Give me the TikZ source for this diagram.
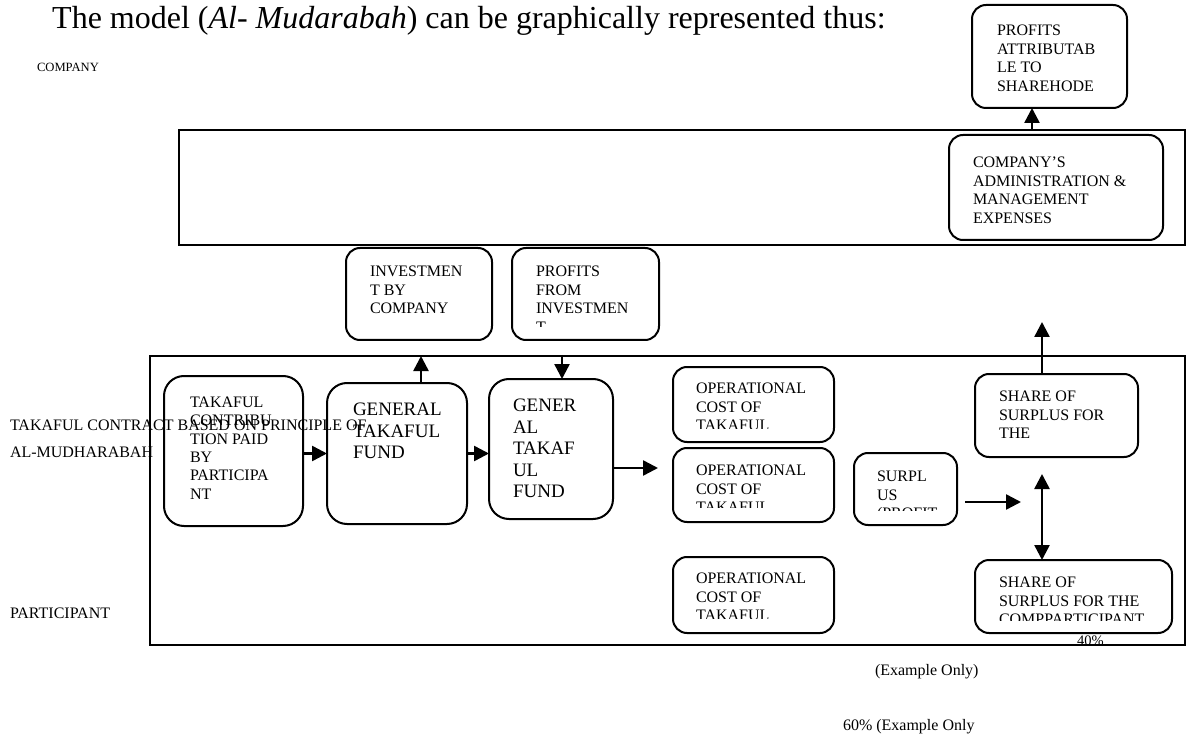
\documentclass[tikz,border=0pt]{standalone}
\usepackage{fontspec}
\setmainfont{Liberation Serif}
\usetikzlibrary{arrows.meta}
\newcommand{\fs}[2]{\fontsize{#1}{#2}\selectfont}
\begin{document}
\begin{tikzpicture}[x=1pt,y=-1pt,
  frame/.style={draw,line width=1.6pt,inner sep=0,outer sep=0},
  rbox/.style={draw,line width=2pt,rounded corners=14pt,inner sep=0,outer sep=0},
  txt/.style={anchor=north west,inner sep=0,outer sep=0,align=left,font=\fs{16}{18.5}},
  bigtxt/.style={anchor=north west,inner sep=0,outer sep=0,align=left,font=\fs{19}{21.5}},
  lbl/.style={anchor=north west,inner sep=0,outer sep=0,font=\fs{16}{18.5}},
  arr/.style={line width=2.5pt,-{Triangle[length=15pt,width=15pt]}},
  darr/.style={line width=2.5pt,{Triangle[length=15pt,width=15pt]}-{Triangle[length=15pt,width=15pt]}}]
\useasboundingbox (0,0) rectangle (1189,735);

% title and side labels
\node[anchor=base west,inner sep=0,font=\fs{32}{36}] (title) at (52,29) {The model (\textit{Al- Mudarabah}) can be graphically represented thus:};
\node[lbl,font=\fs{12.6}{15}] (lcomp) at (37,63) {COMPANY};
\node[lbl] (lcontract) at (10,420) {TAKAFUL CONTRACT BASED ON PRINCIPLE OF};
\node[lbl] (lmud) at (10,447) {AL-MUDHARABAH};
\node[lbl] (lpart) at (10,608) {PARTICIPANT};

% frames
\node[frame,minimum width=1006,minimum height=115] (comp) at (682,187.5) {};
\node[frame,minimum width=1035,minimum height=289] (low) at (667.5,500.5) {};

% boxes
\node[rbox,minimum width=155,minimum height=103] (pa) at (1049.5,56.5) {};
\node[txt] (pat) at (997,25) {PROFITS\\ATTRIBUTAB\\LE TO\\SHAREHODE};

\node[rbox,minimum width=214,minimum height=105] (adm) at (1056,187.5) {};
\node[txt] (admt) at (973,157) {COMPANY’S\\ADMINISTRATION \&\\MANAGEMENT\\EXPENSES};

\node[rbox,minimum width=146,minimum height=92] (inv) at (419,294) {};
\node[txt] (invt) at (370,266) {INVESTMEN\\T BY\\COMPANY};

\node[rbox,minimum width=147,minimum height=92] (pfi) at (585.5,294) {};
\begin{scope}
\clip (512,248) rectangle (659,327);
\node[txt] (pfit) at (536,266) {PROFITS\\FROM\\INVESTMEN\\T};
\end{scope}

\node[rbox,minimum width=139,minimum height=150,rounded corners=20pt] (tak) at (233.5,451) {};
\node[txt,font=\fs{16}{18.3}] (takt) at (190,397) {TAKAFUL\\CONTRIBU\\TION PAID\\BY\\PARTICIPA\\NT};

\node[rbox,minimum width=140,minimum height=141,rounded corners=20pt] (gtf1) at (397,453.5) {};
\node[bigtxt] (gtf1t) at (353,403) {GENERAL\\TAKAFUL\\FUND};

\node[rbox,minimum width=124,minimum height=140,rounded corners=20pt] (gtf2) at (551,449) {};
\node[bigtxt] (gtf2t) at (513,399) {GENER\\AL\\TAKAF\\UL\\FUND};

\node[rbox,minimum width=161,minimum height=75] (op1) at (753.5,404.5) {};
\begin{scope}
\clip (673,367) rectangle (834,428);
\node[txt] (op1t) at (696,383) {OPERATIONAL\\COST OF\\TAKAFUL};
\end{scope}

\node[rbox,minimum width=161,minimum height=74] (op2) at (753.5,485) {};
\begin{scope}
\clip (673,448) rectangle (834,507);
\node[txt] (op2t) at (696,465) {OPERATIONAL\\COST OF\\TAKAFUL};
\end{scope}

\node[rbox,minimum width=161,minimum height=76] (op3) at (753.5,595) {};
\begin{scope}
\clip (673,557) rectangle (834,618);
\node[txt] (op3t) at (696,573) {OPERATIONAL\\COST OF\\TAKAFUL};
\end{scope}

\node[rbox,minimum width=103,minimum height=72] (sur) at (905.5,489) {};
\begin{scope}
\clip (854,453) rectangle (957,510);
\node[txt] (surt) at (877,471) {SURPL\\US\\(PROFIT};
\end{scope}

\node[rbox,minimum width=163,minimum height=83] (sh1) at (1056.5,415.5) {};
\node[txt] (sh1t) at (999,391) {SHARE OF\\SURPLUS FOR\\THE};

\node[rbox,minimum width=197,minimum height=73] (sh2) at (1073.5,596.5) {};
\begin{scope}
\clip (975,560) rectangle (1172,620);
\node[txt] (sh2t) at (999,577) {SHARE OF\\SURPLUS FOR THE\\COMPPARTICIPANT};
\end{scope}

% bottom labels
\node[lbl,font=\fs{14.5}{17}] (p40) at (1077,636) {40\%};
\node[lbl] (ex1) at (875,664) {(Example Only)};
\node[lbl] (ex2) at (843,719) {60\% (Example Only};

% free connector ends
\coordinate (invup) at (421,356);
\coordinate (pfidown) at (562,355);
\coordinate (gout) at (658,468);
\coordinate (sa) at (965,502);
\coordinate (sb) at (1021,502);
\coordinate (shup) at (1042,322);
\coordinate (dtop) at (1042,474);
\coordinate (admx) at (1032,130);

% connectors
\draw[arr] (tak.east |- gtf1.west) -- (gtf1.west);
\draw[arr] (gtf1.east) -- (gtf1.east -| gtf2.west);
\draw[arr] (invup |- gtf1.north) -- (invup);
\draw[arr] (pfidown) -- (pfidown |- gtf2.north);
\draw[arr] (gout -| gtf2.east) -- (gout);
\draw[arr] (sa) -- (sb);
\draw[arr] (shup |- sh1.north) -- (shup);
\draw[darr] (dtop) -- (dtop |- sh2.north);
\draw[arr] (admx) -- (admx |- pa.south);
\end{tikzpicture}
\end{document}
